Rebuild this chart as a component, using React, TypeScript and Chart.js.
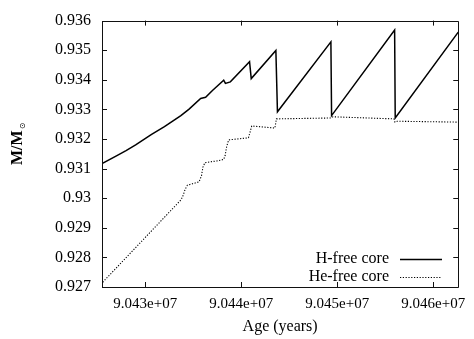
import React, { useEffect, useRef } from 'react';
import { Chart, registerables } from 'chart.js';

Chart.register(...registerables);

// ---- data ----
const hFreeAge = [
  90425495, 90427000, 90428000, 90429000, 90430619, 90432000, 90433711, 90434567, 90435773,
  90436289, 90437000, 90438175, 90438351, 90438866, 90440866, 90441041, 90443608,
  90443773, 90449340, 90449412, 90455979, 90456041, 90462608,
];
const hFreeMass = [
  0.93117, 0.93143, 0.93161, 0.9318, 0.93215, 0.93242, 0.93279, 0.93301, 0.93337,
  0.93341, 0.93364, 0.93399, 0.93388, 0.93393, 0.93461, 0.93404, 0.93499,
  0.93292, 0.93528, 0.93279, 0.93568, 0.93271, 0.93561,
];
const heFreeAge = [
  90425567, 90433711, 90433897, 90434155, 90434392, 90435598, 90435856, 90436010,
  90436216, 90437485, 90438175, 90438330, 90438485, 90438691, 90440753, 90440907,
  90441093, 90443505, 90443670, 90449340, 90449546, 90455907, 90456010, 90456247,
  90462608,
];
const heFreeMass = [
  0.92716, 0.92994, 0.93005, 0.9303, 0.93044, 0.93055, 0.93075, 0.93105,
  0.9312, 0.93126, 0.93131, 0.93145, 0.93175, 0.93197, 0.93204, 0.93222,
  0.93244, 0.93237, 0.93268, 0.93271, 0.93275, 0.93268, 0.93257, 0.9326,
  0.93257,
];
const seriesLabels = ['H-free core', 'He-free core'];
const xTickValues = [90430000, 90440000, 90450000, 90460000];
const yTickValues = [0.927, 0.928, 0.929, 0.93, 0.931, 0.932, 0.933, 0.934, 0.935, 0.936];
const xMin = 90425495;
const xMax = 90462608;
const yMin = 0.927;
const yMax = 0.936;
const xTitle = 'Age (years)';
const yTitleMain = 'M/M';
const yTitleSub = '\u2299';

const SERIF = '"Liberation Serif", "Times New Roman", serif';

const framePlugin = {
  id: 'gpFrame',
  afterDatasetsDraw(chart: any) {
    const { ctx, chartArea } = chart;
    const { left, right, top, bottom } = chartArea;
    const xs = chart.scales.x;
    const ys = chart.scales.y;
    const tl = 5;
    ctx.save();
    ctx.strokeStyle = '#111';
    ctx.lineWidth = 1;
    ctx.beginPath();
    ctx.rect(Math.round(left) + 0.5, Math.round(top) + 0.5, Math.round(right - left), Math.round(bottom - top));
    xs.ticks.forEach((t: any) => {
      const px = Math.round(xs.getPixelForValue(t.value)) + 0.5;
      ctx.moveTo(px, bottom);
      ctx.lineTo(px, bottom - tl);
      ctx.moveTo(px, top);
      ctx.lineTo(px, top + tl);
    });
    ys.ticks.forEach((t: any) => {
      const py = Math.round(ys.getPixelForValue(t.value)) + 0.5;
      ctx.moveTo(left, py);
      ctx.lineTo(left + tl, py);
      ctx.moveTo(right, py);
      ctx.lineTo(right - tl, py);
    });
    ctx.stroke();
    ctx.restore();
  },
};

const legendPlugin = {
  id: 'gpLegend',
  afterDraw(chart: any) {
    const { ctx } = chart;
    const textRight = 389;
    const lineStart = 400;
    const lineEnd = 442;
    const y0 = 258.5;
    const dy = 18;
    ctx.save();
    chart.data.datasets.forEach((d: any, i: number) => {
      const y = y0 + i * dy;
      ctx.font = `16px ${SERIF}`;
      ctx.fillStyle = '#000';
      ctx.textAlign = 'right';
      ctx.textBaseline = 'middle';
      ctx.fillText(d.label, textRight, y);
      ctx.strokeStyle = d.borderColor;
      ctx.lineWidth = d.borderWidth;
      ctx.setLineDash(d.borderDash || []);
      ctx.beginPath();
      ctx.moveTo(lineStart, Math.round(y) + 0.5);
      ctx.lineTo(lineEnd, Math.round(y) + 0.5);
      ctx.stroke();
      ctx.setLineDash([]);
    });
    ctx.restore();
  },
};

const titlePlugin = {
  id: 'gpTitles',
  afterDraw(chart: any) {
    const { ctx, chartArea } = chart;
    ctx.save();
    ctx.fillStyle = '#000';
    // x title
    ctx.font = `16px ${SERIF}`;
    ctx.textAlign = 'center';
    ctx.textBaseline = 'middle';
    ctx.fillText(xTitle, (chartArea.left + chartArea.right) / 2, 327);
    // y title
    ctx.translate(21.5, 165);
    ctx.rotate(-Math.PI / 2);
    ctx.font = `bold 16px ${SERIF}`;
    ctx.textAlign = 'left';
    ctx.textBaseline = 'alphabetic';
    ctx.fillText(yTitleMain, 0, 0);
    const w = ctx.measureText(yTitleMain).width;
    ctx.font = `8px "DejaVu Sans", sans-serif`;
    ctx.textBaseline = 'middle';
    ctx.fillText(yTitleSub, w + 1, 1.5);
    ctx.restore();
  },
};

export default function App() {
  const canvasRef = useRef<HTMLCanvasElement | null>(null);

  useEffect(() => {
    const canvas = canvasRef.current;
    if (!canvas) return;
    const chart = new Chart(canvas, {
      type: 'line',
      data: {
        datasets: [
          {
            label: seriesLabels[0],
            data: hFreeAge.map((x, i) => ({ x, y: hFreeMass[i] })),
            borderColor: '#000',
            borderWidth: 1.5,
            pointRadius: 0,
            tension: 0,
            fill: false,
          },
          {
            label: seriesLabels[1],
            data: heFreeAge.map((x, i) => ({ x, y: heFreeMass[i] })),
            borderColor: '#000',
            borderWidth: 1.1,
            borderDash: [1.2, 1.6],
            pointRadius: 0,
            tension: 0,
            fill: false,
          },
        ],
      },
      options: {
        responsive: false,
        animation: false,
        devicePixelRatio: 1,
        layout: { padding: { left: 0, top: 12, right: 12, bottom: 0 } },
        plugins: {
          legend: { display: false },
          tooltip: { enabled: false },
          title: { display: false },
        },
        scales: {
          x: {
            type: 'linear',
            min: xMin,
            max: xMax,
            grid: { display: false, drawTicks: false },
            border: { display: false },
            afterBuildTicks: (scale: any) => {
              scale.ticks = xTickValues.map((v) => ({ value: v }));
            },
            afterFit: (scale: any) => {
              scale.height = 52;
            },
            ticks: {
              maxRotation: 0,
              autoSkip: false,
              padding: 8,
              color: '#000',
              font: { family: SERIF, size: 15 },
              callback: (v: any) => (Number(v) / 1e7).toFixed(3) + 'e+07',
            },
          },
          y: {
            type: 'linear',
            min: yMin,
            max: yMax,
            grid: { display: false, drawTicks: false },
            border: { display: false },
            afterBuildTicks: (scale: any) => {
              scale.ticks = yTickValues.map((v) => ({ value: v }));
            },
            afterFit: (scale: any) => {
              scale.width = 102;
            },
            ticks: {
              autoSkip: false,
              padding: 11,
              color: '#000',
              font: { family: SERIF, size: 16 },
              callback: (v: any) => String(Number(Number(v).toFixed(3))),
            },
          },
        },
      },
      plugins: [framePlugin, legendPlugin, titlePlugin],
    });
    return () => chart.destroy();
  }, []);

  return (
    <div style={{ position: 'fixed', left: 0, top: 0, width: 474, height: 339, background: '#fff' }}>
      <canvas ref={canvasRef} width={474} height={339} />
    </div>
  );
}
